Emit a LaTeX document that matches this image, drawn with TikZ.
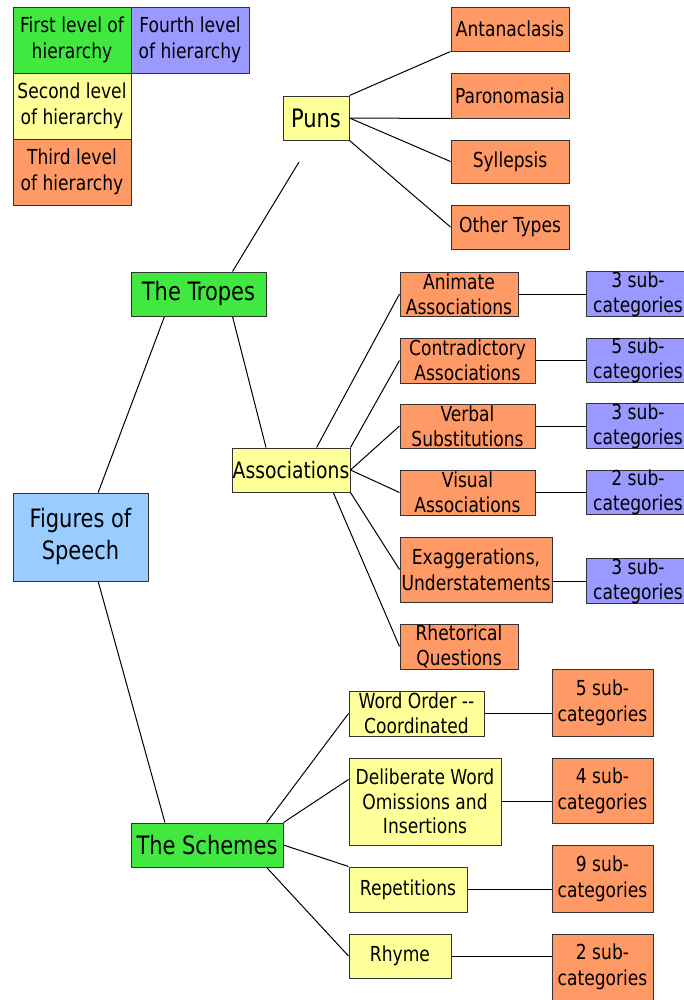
\documentclass[tikz,border=0pt]{standalone}
\usepackage{fontspec}
\setmainfont[FakeStretch=0.92]{DejaVu Sans Condensed}
\usetikzlibrary{positioning, calc}
\definecolor{LevelOne}{HTML}{40E840}
\definecolor{LevelTwo}{HTML}{FFFF99}
\definecolor{LevelThree}{HTML}{FF9966}
\definecolor{LevelFour}{HTML}{9999FF}
\definecolor{RootBlue}{HTML}{99CCFF}

\begin{document}
\begin{tikzpicture}[x=0.75pt, y=-0.75pt,
        box/.style 2 args={draw=black!80, line width=0.75pt, inner sep=0pt, align=center,
            minimum width=#1*0.75pt, minimum height=#2*0.75pt,
            font=\fontsize{15.5}{18.5}\selectfont},
        big/.style={font=\fontsize{19}{24}\selectfont},
        wide/.style={font=\fontsize{15.5}{19.5}\selectfont},
        one/.style={fill=LevelOne}, two/.style={fill=LevelTwo},
        three/.style={fill=LevelThree}, four/.style={fill=LevelFour},
        link/.style={black, line width=0.75pt}]
                \fill[white] (0,0) rectangle (684,1000);
                \useasboundingbox (0,0) rectangle (684,1000);
                \node[box={118}{66}, wide, one] (lvone) at (72,40) {First level of\\hierarchy};
                \node[box={118}{66}, wide, four] (lvfour) at (190,40) {Fourth level\\of hierarchy};
                \node[box={118}{66}, wide, two] (lvtwo) at (72,106) {Second level\\of hierarchy};
                \node[box={118}{66}, wide, three] (lvthree) at (72,172) {Third level\\of hierarchy};
                \node[box={135}{88}, big, fill=RootBlue] (fig) at (80.5,537) {Figures of\\Speech};
                \node[box={135}{44}, big, one] (tropes) at (198.5,294) {The Tropes};
                \node[box={152}{44}, big, one] (schemes) at (207,845) {The Schemes};
                \node[box={66}{44}, big, two] (puns) at (316,118) {Puns};
                \node[box={118}{44}, three] (ant) at (510,29) {Antanaclasis};
                \node[box={118}{45}, three] (par) at (510,95.5) {Paronomasia};
                \node[box={118}{43}, three] (syl) at (510,161.5) {Syllepsis};
                \node[box={118}{44}, three] (oth) at (510,227) {Other Types};
                \node[box={118}{44}, two, font=\fontsize{17}{20}\selectfont] (assoc) at (291,470) {Associations};
                \node[box={118}{44}, three] (anim) at (459,294) {Animate\\Associations};
                \node[box={135}{45}, three] (contr) at (467.5,360.5) {Contradictory\\Associations};
                \node[box={135}{44}, three] (verb) at (467.5,426) {Verbal\\Substitutions};
                \node[box={135}{45}, three] (vis) at (467.5,492.5) {Visual\\Associations};
                \node[box={152}{65}, three, wide] (exag) at (476,569.5) {Exaggerations,\\Understatements};
                \node[box={118}{45}, three] (rhet) at (459,646.5) {Rhetorical\\Questions};
                \foreach \n/\y/\k in {sa/294/3, sb/360.5/5, sc/426/3, sd/492.5/2, se/581/3}
                    \node[box={104}{44}, four] (\n) at (638,\y) {\k\ sub-\\categories};
                \node[box={135}{45}, two] (word) at (416.5,713.5) {Word Order -{}-\\Coordinated};
                \node[box={152}{87}, two] (delib) at (425,801.5) {Deliberate Word\\Omissions and\\Insertions};
                \node[box={118}{45}, two] (rep) at (408,889.5) {Repetitions};
                \node[box={102}{44}, two] (rhy) at (400,956) {Rhyme};
                \foreach \n/\y/\h/\k in {oa/702.5/67/5, ob/790.5/65/4, oc/878.5/67/9, od/967/66/2}
                    \node[box={101}{\h}, three, wide] (\n) at (602.5,\y) {\k\ sub-\\categories};
                \coordinate (punsgap) at (299,162);
                \draw[link] ($(fig.north)!.26!(fig.north east)$) -- ($(tropes.south)!.5!(tropes.south west)$);
                \draw[link] ($(fig.south)!.26!(fig.south east)$) -- ($(schemes.north)!.55!(schemes.north west)$);
                \draw[link] ($(tropes.north)!.5!(tropes.north east)$) -- (punsgap);
                \draw[link] ($(tropes.south)!.5!(tropes.south east)$) -- ($(assoc.north)!.42!(assoc.north west)$);
                \draw[link] (puns.north east) -- (ant.south west);
                \draw[link] (puns.east) -- (par.south west);
                \draw[link] (puns.east) -- (syl.west);
                \draw[link] (puns.south east) -- (oth.west);
                \draw[link] ($(assoc.north)!.43!(assoc.north east)$) -- (anim.west);
                \draw[link] (assoc.north east) -- (contr.west);
                \draw[link] (assoc.east) -- (verb.west);
                \draw[link] (assoc.east) -- (vis.west);
                \draw[link] (assoc.south east) -- (exag.west);
                \draw[link] ($(assoc.south)!.71!(assoc.south east)$) -- (rhet.west);
                \draw[link] (anim.east) -- (sa.west);
                \draw[link] (contr.east) -- (sb.west);
                \draw[link] (verb.east) -- (sc.west);
                \draw[link] (vis.east) -- (sd.west);
                \draw[link] (se.west -| exag.east) -- (se.west);
                \draw[link] ($(schemes.north)!.78!(schemes.north east)$) -- (word.west);
                \draw[link] (schemes.north east) -- ($(delib.west)!.5!(delib.north west)$);
                \draw[link] (schemes.east) -- (rep.north west);
                \draw[link] ($(schemes.south)!.78!(schemes.south east)$) -- (rhy.west);
                \draw[link] (word.east) -- (word.east -| oa.west);
                \draw[link] (delib.east) -- (delib.east -| ob.west);
                \draw[link] (rep.east) -- (rep.east -| oc.west);
                \draw[link] (rhy.east) -- (rhy.east -| od.west);
            \end{tikzpicture}
\end{document}
